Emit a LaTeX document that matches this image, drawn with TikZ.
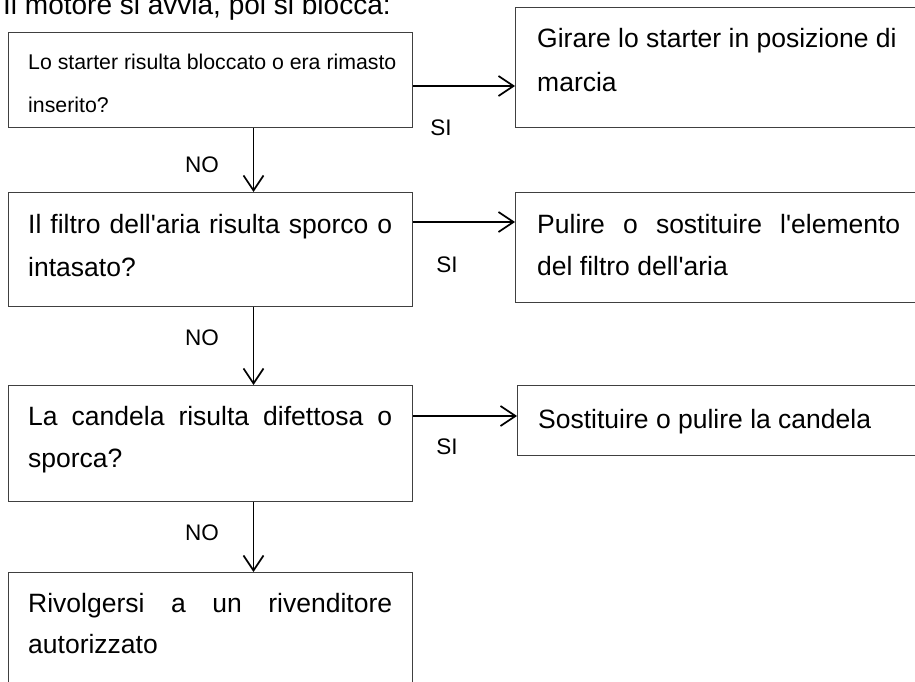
\documentclass[tikz,border=0pt]{standalone}
\usepackage{fontspec}
\setmainfont{Liberation Sans}[Ligatures=TeXOff]
\usetikzlibrary{arrows.meta}
\begin{document}
\begin{tikzpicture}[x=1pt,y=-1pt,
  box/.style={draw=black!75, line width=1.3pt, rectangle, inner sep=0pt, anchor=north west},
  txt/.style={anchor=base west, inner sep=0pt, font=\fontsize{26.5}{30}\selectfont},
  stxt/.style={anchor=base west, inner sep=0pt, font=\fontsize{21.3}{25}\selectfont},
  lab/.style={inner sep=0pt, font=\fontsize{22.5}{26}\selectfont},
  arr/.style={line width=1.7pt, -{Straight Barb[length=15pt,width=20pt]}}]
\useasboundingbox (0,0) rectangle (915,682);

% title
\node[anchor=base west, inner sep=0pt, font=\fontsize{28}{32}\selectfont] (title) at (3,15) {Il motore si avvia, poi si blocca:};

% boxes
\node[box, minimum width=404pt, minimum height=95pt] (b1) at (8,32) {};
\node[box, minimum width=405pt, minimum height=120pt] (b2) at (515,7) {};
\node[box, minimum width=404pt, minimum height=114pt] (b3) at (8,192) {};
\node[box, minimum width=405pt, minimum height=110pt] (b4) at (515,192) {};
\node[box, minimum width=404pt, minimum height=116pt] (b5) at (8,385) {};
\node[box, minimum width=403pt, minimum height=70pt] (b6) at (517,385) {};
\node[box, minimum width=404pt, minimum height=130pt] (b7) at (8,572) {};

% texts
\node[stxt] (t1a) at (28,70) {Lo starter risulta bloccato o era rimasto};
\node[stxt] (t1b) at (28,113) {inserito?};
\node[txt] (t2a) at (537,48) {Girare lo starter in posizione di};
\node[txt] (t2b) at (537,92) {marcia};
\node[txt] (t3a) at (28,233) {\makebox[364pt][s]{Il filtro dell'aria risulta sporco o}};
\node[txt] (t3b) at (28,276) {intasato?};
\node[txt] (t4a) at (537,233) {\makebox[363pt][s]{Pulire o sostituire l'elemento}};
\node[txt] (t4b) at (537,275) {del filtro dell'aria};
\node[txt] (t5a) at (28,425) {\makebox[364pt][s]{La candela risulta difettosa o}};
\node[txt] (t5b) at (28,467) {sporca?};
\node[txt] (t6a) at (538,428) {Sostituire o pulire la candela};
\node[txt] (t7a) at (28,612) {\makebox[364pt][s]{Rivolgersi a un rivenditore}};
\node[txt] (t7b) at (28,653) {autorizzato};

% connectors
\coordinate (r1) at (0,86);
\coordinate (r2) at (0,222);
\coordinate (r3) at (0,416);
\coordinate (d1) at (253.5,0);
\draw[arr] (b1.east |- r1) -- (b2.west |- r1);
\draw[arr] (b3.east |- r2) -- (b4.west |- r2);
\draw[arr] (b5.east |- r3) -- (b6.west |- r3);
\draw[arr] (b1.south -| d1) -- (b3.north -| d1);
\draw[arr] (b3.south -| d1) -- (b5.north -| d1);
\draw[arr] (b5.south -| d1) -- (b7.north -| d1);

% labels
\node[lab] (si1) at (441,128) {SI};
\node[lab] (si2) at (447,265) {SI};
\node[lab] (si3) at (447,447) {SI};
\node[lab] (no1) at (202,165) {NO};
\node[lab] (no2) at (202,338) {NO};
\node[lab] (no3) at (202,533) {NO};
\end{tikzpicture}
\end{document}
